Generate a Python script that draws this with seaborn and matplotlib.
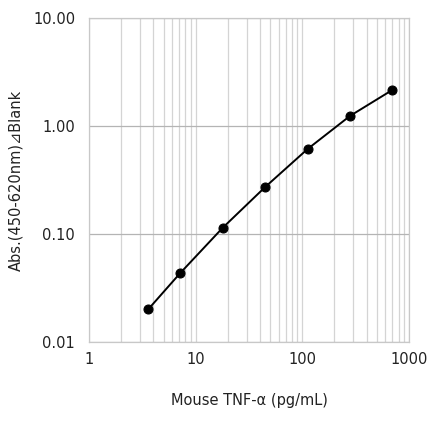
import numpy as np
import pandas as pd
import matplotlib
matplotlib.use("Agg")
import matplotlib.pyplot as plt
import matplotlib.ticker as mticker
import seaborn as sns

# standard curve data
conc = [3.58, 7.17, 17.9, 44.8, 112, 280, 700]
absorbance = [0.020, 0.0435, 0.114, 0.272, 0.612, 1.24, 2.16]

x_ticks = [1, 10, 100, 1000]
x_tick_labels = ["1", "10", "100", "1000"]
y_ticks = [0.01, 0.1, 1, 10]
y_tick_labels = ["0.01", "0.10", "1.00", "10.00"]

df = pd.DataFrame({"conc": conc, "abs": absorbance})

sns.set_style("white")
plt.rcParams['font.family'] = ['DejaVu Sans']

fig = plt.figure(figsize=(4.42, 4.22), dpi=100)
ax = fig.add_axes([89 / 442, 1 - 342 / 422, 320 / 442, 324 / 422])

ax.set_xscale("log")
ax.set_yscale("log")
ax.set_xlim(1, 1000)
ax.set_ylim(0.01, 10)

# grid: vertical lines at every minor step, horizontal only at decades
ax.xaxis.set_minor_locator(mticker.LogLocator(base=10, subs=np.arange(2, 10)))
ax.yaxis.set_minor_locator(mticker.NullLocator())
ax.grid(which="major", axis="x", color="#d4d4d4", linewidth=0.9)
ax.grid(which="minor", axis="x", color="#d4d4d4", linewidth=0.9)
ax.grid(which="major", axis="y", color="#b4b4b4", linewidth=0.9)
ax.set_axisbelow(True)

sns.lineplot(data=df, x="conc", y="abs", ax=ax, color="black", linewidth=1.4,
             marker="o", markersize=6.5, markeredgecolor="black",
             markerfacecolor="black")

ax.set_xticks(x_ticks)
ax.set_xticklabels(x_tick_labels)
ax.set_yticks(y_ticks)
ax.set_yticklabels(y_tick_labels)
ax.tick_params(axis="both", which="both", length=0, labelsize=10.5, colors="#222222")
ax.tick_params(axis="x", pad=7)
ax.tick_params(axis="y", pad=10)

for s in ax.spines.values():
    s.set_color("#c8c8c8")
    s.set_linewidth(0.9)

ax.set_xlabel("Mouse TNF-α (pg/mL)", fontsize=10.5, labelpad=19, color="#222222")
ax.set_ylabel("Abs.(450-620nm)⊿Blank", fontsize=10.5, labelpad=7, color="#222222")

fig.savefig("out.png", dpi=100)
